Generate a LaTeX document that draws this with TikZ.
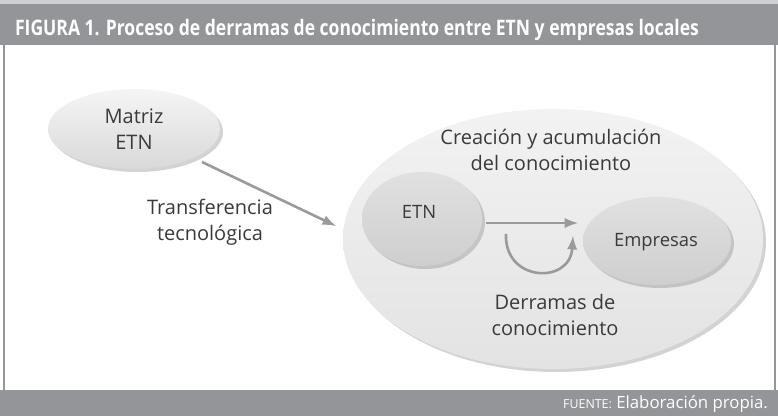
\documentclass[tikz,border=0pt]{standalone}
\usepackage{fontspec}
\setmainfont{Open Sans}
\newfontfamily\headfont[FakeStretch=0.82]{Open Sans}
\usetikzlibrary{shapes.geometric,shadows}
\definecolor{barra}{HTML}{939598}
\definecolor{texto}{HTML}{3A3A3A}
\definecolor{flecha}{HTML}{9A9A9A}

\begin{document}
\begin{tikzpicture}[x=0.5pt,y=-0.5pt,
		elipse/.style={ellipse, inner sep=0pt, text=texto, drop shadow={shadow xshift=1.5pt, shadow yshift=-1.5pt, opacity=0.35}},
		etiqueta/.style={text=texto, align=center, font=\fontsize{10}{13}\selectfont},
		flechagris/.style={draw=flecha, line width=1.3pt, -latex}]
		\useasboundingbox (0,0) rectangle (778,416);
		% bandas y marco
		\fill[barra!45] (0,0) rectangle (778,4);
		\fill[barra] (0,4) rectangle (778,45);
		\fill[barra] (0,390) rectangle (778,416);
		\draw[barra, line width=1pt] (4,45) -- (4,390) (775,45) -- (775,390);
		\node[anchor=west, text=white, font=\headfont\bfseries\fontsize{10.7}{12}\selectfont] (titulo) at (8,30) {FIGURA 1. Proceso de derramas de conocimiento entre ETN y empresas locales};
		\node[anchor=east, text=white, font=\fontsize{8.4}{10}\selectfont] (fuente) at (775,404) {{\fontsize{6.2}{8}\selectfont FUENTE:} Elaboración propia.};
		% elipses
		\node[elipse, minimum width=86pt, minimum height=40pt, top color=gray!8, bottom color=gray!30, etiqueta] (matriz) at (134,129) {Matriz\\ETN};
		\node[elipse, minimum width=210pt, minimum height=130pt, top color=gray!10, bottom color=gray!22] (red) at (553,239) {};
		\node[elipse, minimum width=60pt, minimum height=47pt, top color=gray!24, bottom color=gray!38] (etn) at (422,219) {};
		\node[elipse, minimum width=74pt, minimum height=44pt, top color=gray!24, bottom color=gray!38] (empresas) at (657,241) {};
		\node[etiqueta, font=\fontsize{9.2}{11}\selectfont] (etntxt) at (419,212) {ETN};
		\node[etiqueta, font=\fontsize{9.2}{11}\selectfont] (emptxt) at (656,242) {Empresas};
		% textos
		\node[etiqueta] (creacion) at (551,150) {Creación y acumulación\\del conocimiento};
		\node[etiqueta] (derramas) at (555,315) {Derramas de\\conocimiento};
		\node[etiqueta] (transf) at (210,222) {Transferencia\\tecnológica};
		% flechas
		\coordinate (t1) at (202,162);
		\coordinate (t2) at (336,226);
		\draw[flechagris] (t1) -- (t2);
		\coordinate (h1) at (486,223);
		\coordinate (h2) at (578,223);
		\draw[flechagris] (h1) -- (h2);
		\coordinate (c1) at (506,234);
		\coordinate (c2) at (573,236);
		\draw[flechagris] (c1) .. controls (504,282) and (570,285) .. (c2);
	\end{tikzpicture}
\end{document}
